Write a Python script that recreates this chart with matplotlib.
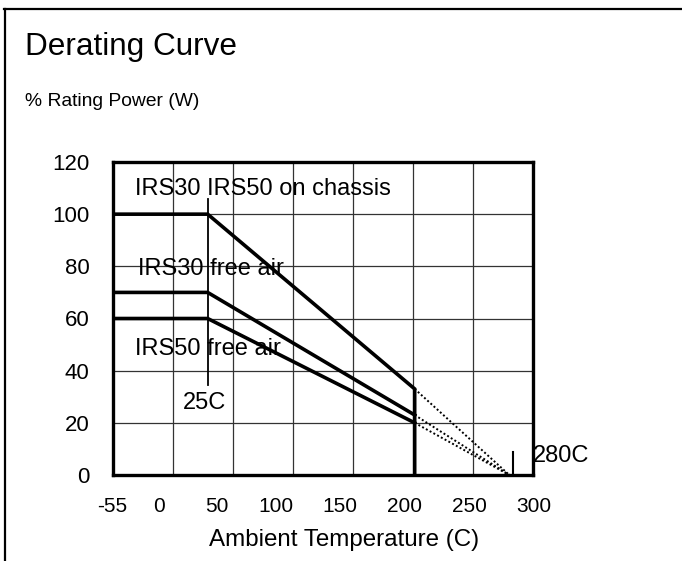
import numpy as np
import matplotlib.pyplot as plt
from matplotlib.lines import Line2D
from matplotlib.transforms import ScaledTranslation

plt.rcParams["font.family"] = ["Liberation Sans", "DejaVu Sans"]

# Derating data (temperature in C, power in % of rating)
temps = [-55, 25, 200]
chassis = [100, 100, 33]
free_air_30 = [70, 70, 23]
free_air_50 = [60, 60, 20]
cutoff_temp = 200
zero_temp = 280

x_ticks = [-55, 0, 50, 100, 150, 200, 250, 300]
y_ticks = [0, 20, 40, 60, 80, 100, 120]

fig = plt.figure(figsize=(6.82, 5.61), dpi=100)
ax = fig.add_axes([113 / 682, 1 - 475 / 561, 420 / 682, 313 / 561])

# Grid (evenly spaced cells, drawn like the original sheet)
ax.set_xticks(np.linspace(x_ticks[0], x_ticks[-1], 8), minor=True)
ax.grid(which="minor", axis="x", color="#333333", linewidth=0.9)
ax.grid(which="major", axis="y", color="#333333", linewidth=0.9)
ax.set_axisbelow(True)

# Solid curves up to the cutoff
ax.plot(temps + [cutoff_temp], chassis + [0], color="black", linewidth=2.6,
        solid_joinstyle="miter")
ax.plot(temps, free_air_30, color="black", linewidth=2.6)
ax.plot(temps, free_air_50, color="black", linewidth=2.6)

# Dotted extrapolation to zero power
for curve in [chassis, free_air_30, free_air_50]:
    ax.plot([cutoff_temp, zero_temp], [curve[-1], 0], color="black",
            linewidth=1.4, linestyle=(0, (1, 1.2)))

# Marker lines for 25C and 280C
ax.plot([temps[1], temps[1]], [106, 34.5], color="black", linewidth=1.3)
ax.plot([zero_temp + 3, zero_temp + 3], [0, 8.8], color="black", linewidth=1.5)

ax.text(-36.4, 107.4, "IRS30 IRS50 on chassis", fontsize=17, va="baseline")
ax.text(-34, 76.7, "IRS30 free air", fontsize=17, va="baseline")
ax.text(-36.4, 46, "IRS50 free air", fontsize=17, va="baseline")
ax.text(temps[1] - 3, 25.3, "25C", fontsize=17, va="baseline", ha="center")
ax.text(300, 5, "280C", fontsize=17, va="baseline", ha="left")

ax.set_xlim(x_ticks[0], x_ticks[-1])
ax.set_ylim(y_ticks[0], y_ticks[-1])
ax.set_xticks(x_ticks)
ax.set_xticklabels([str(t) for t in x_ticks])
ax.set_yticks(y_ticks)
ax.tick_params(which="both", length=0)
ax.tick_params(axis="x", pad=16, labelsize=15)
ax.tick_params(axis="y", pad=17, labelsize=16)

# Labels on the original are shifted left of their grid lines
shifts = [-1, -19, -20, -20, -16, -10, -4, 1]
for lbl, dx in zip(ax.get_xticklabels(), shifts):
    lbl.set_transform(lbl.get_transform() + ScaledTranslation(dx / 100, 0, fig.dpi_scale_trans))

for spine in ax.spines.values():
    spine.set_linewidth(2.4)

ax.set_xlabel("Ambient Temperature (C)", fontsize=17.4, va="baseline")
ax.xaxis.set_label_coords(0.551, -0.2268)

fig.text(25 / 682, 1 - 55 / 561, "Derating Curve", fontsize=22.7, va="baseline")
fig.text(25 / 682, 1 - 106 / 561, "% Rating Power (W)", fontsize=13.9, va="baseline")

# Partial frame around the figure (top and left edges)
fig.add_artist(Line2D([4 / 682, 1], [1 - 9 / 561, 1 - 9 / 561], color="black", linewidth=1.6))
fig.add_artist(Line2D([5 / 682, 5 / 682], [0, 1 - 9 / 561], color="black", linewidth=1.6))

fig.savefig("out.png", dpi=100)
